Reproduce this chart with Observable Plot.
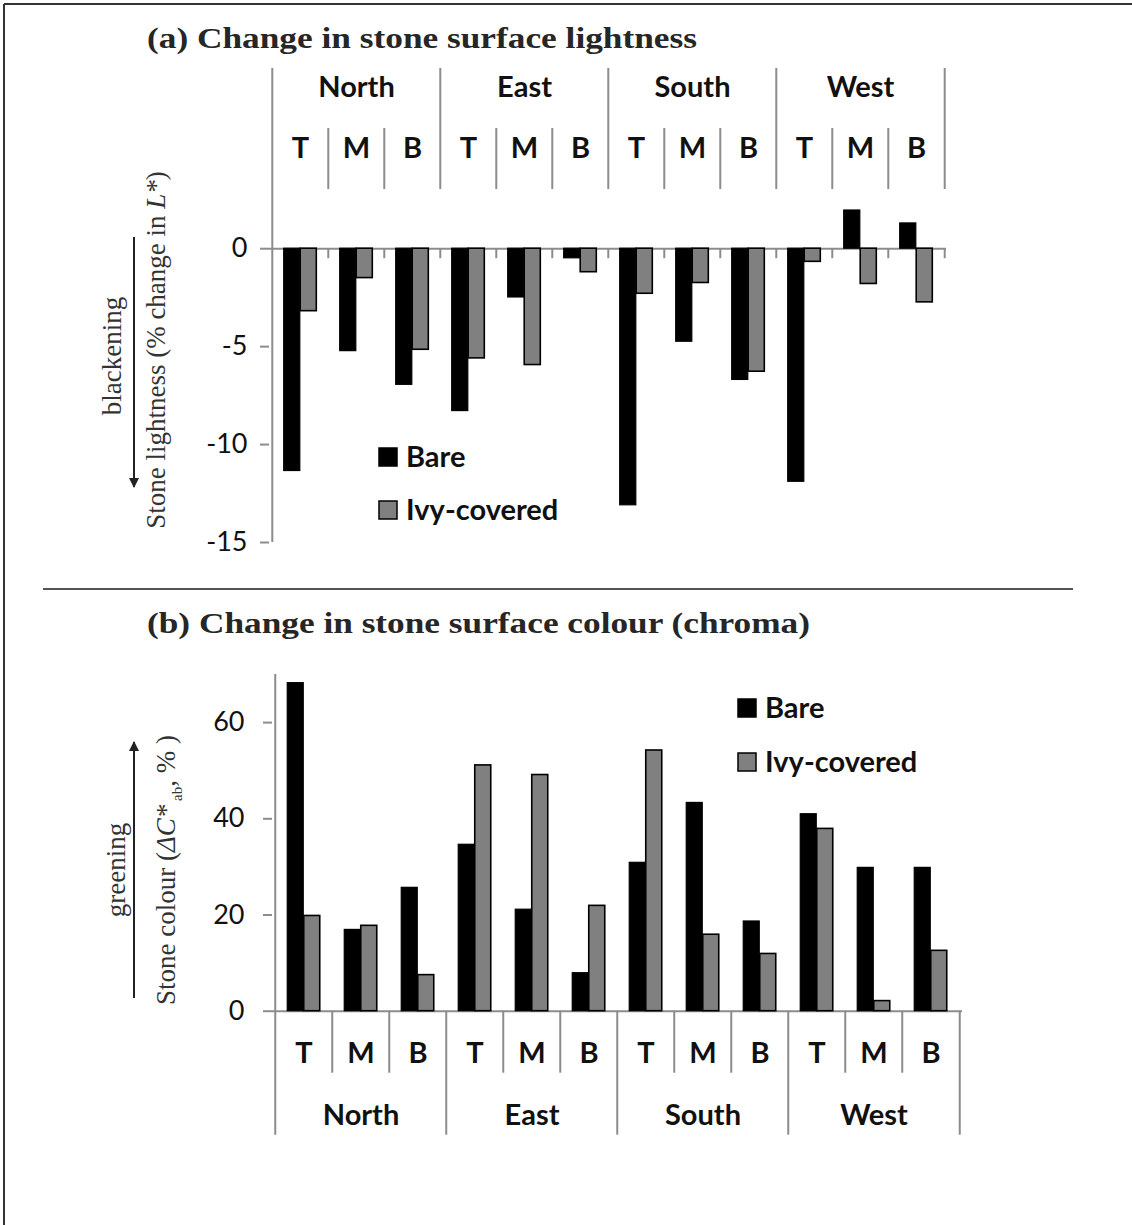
<!DOCTYPE html>
<html>
<head>
<meta charset="utf-8">
<script src="https://cdn.jsdelivr.net/npm/d3@7"></script>
<script src="https://cdn.jsdelivr.net/npm/@observablehq/plot@0.6"></script>
<style>
  html, body { margin: 0; padding: 0; background: #fff; }
  #wrap { position: relative; width: 1132px; height: 1225px; overflow: hidden; background: #fff; }
  #wrap > svg.plot-a { position: absolute; left: 0; top: 0; }
  #wrap > svg.plot-b { position: absolute; left: 0; top: 650px; }
  #deco { position: absolute; left: 0; top: 0; pointer-events: none; }
</style>
</head>
<body>
<div id="wrap"></div>
<script>
// ---------------- data ----------------
const directions = ["North", "East", "South", "West"];
const positions = ["T", "M", "B"];
const seriesNames = ["Bare", "Ivy-covered"];
// (a) % change in L* (order: North T,M,B, East T,M,B, South T,M,B, West T,M,B)
const lightnessBare = [-11.35, -5.23, -6.95, -8.29, -2.49, -0.49, -13.1, -4.75, -6.7, -11.9, 1.95, 1.29];
const lightnessIvy  = [-3.19, -1.5, -5.16, -5.6, -5.94, -1.2, -2.3, -1.75, -6.28, -0.67, -1.8, -2.74];
// (b) ΔC*ab %
const chromaBare = [68.2, 16.9, 25.65, 34.6, 21.1, 7.9, 30.85, 43.3, 18.65, 40.95, 29.8, 29.8];
const chromaIvy  = [19.8, 17.75, 7.5, 51.1, 49.1, 21.9, 54.2, 15.9, 11.9, 37.9, 2.1, 12.55];
const ticksA = [0, -5, -10, -15];
const ticksB = [0, 20, 40, 60];

// ---------------- derived tables ----------------
const cats = directions.flatMap(d => positions.map(p => `${d} ${p}`));
const rowsA = cats.map((c, i) => ({cat: c, bare: lightnessBare[i], ivy: lightnessIvy[i]}));
const rowsB = cats.map((c, i) => ({cat: c, bare: chromaBare[i], ivy: chromaIvy[i]}));
const groupStarts = cats.filter(c => c.endsWith(" T"));
const subStarts = cats.filter(c => !c.endsWith(" T"));
const lastCat = cats[cats.length - 1];

const FONT = "Lato, 'Open Sans', sans-serif";
const AXIS_GREY = "#8c8c8c";
const BARW = 16.5;

function barMarks(rows, bw) {
  return [
    Plot.barY(rows, {x: "cat", y: "bare", fill: "#000", stroke: "#000", strokeWidth: 1.2,
      insetLeft: bw / 2 - BARW, insetRight: bw / 2}),
    Plot.barY(rows, {x: "cat", y: "ivy", fill: "#808080", stroke: "#000", strokeWidth: 1.6,
      insetLeft: bw / 2, insetRight: bw / 2 - BARW})
  ];
}

// ---------------- panel (a) ----------------
{
  const W = 1132, H = 560, mL = 269, mR = 186, mT = 68, mB = 18;
  const bw = (W - mL - mR) / cats.length;
  const innerH = H - mT - mB;
  const yMin = -15, yMax = 9.2;
  const py = v => mT + (yMax - v) * innerH / (yMax - yMin);
  const headerBottom = 189, subTop = 128;
  const ruleStyle = {stroke: AXIS_GREY, strokeWidth: 2};
  const plotA = Plot.plot({
    width: W, height: H, marginLeft: mL, marginRight: mR, marginTop: mT, marginBottom: mB,
    x: {type: "band", domain: cats, padding: 0, axis: null},
    y: {domain: [yMin, yMax], axis: null},
    style: {fontFamily: FONT, background: "transparent", overflow: "visible"},
    marks: [
      Plot.ruleY([0], ruleStyle),
      Plot.ruleX([cats[0]], {x: d => d, dx: -bw / 2, ...ruleStyle}),
      Plot.ruleX(groupStarts.slice(1), {x: d => d, dx: -bw / 2, insetBottom: H - mB - headerBottom, ...ruleStyle}),
      Plot.ruleX([lastCat], {x: d => d, dx: bw / 2, insetBottom: H - mB - headerBottom, ...ruleStyle}),
      Plot.ruleX(subStarts, {x: d => d, dx: -bw / 2, insetTop: subTop - mT, insetBottom: H - mB - headerBottom, ...ruleStyle}),
      Plot.ruleX(cats.slice(1), {x: d => d, dx: -bw / 2, insetTop: py(0) - mT, insetBottom: H - mB - (py(0) + 10), ...ruleStyle}),
      Plot.ruleX([lastCat], {x: d => d, dx: bw / 2, insetTop: py(0) - mT, insetBottom: H - mB - (py(0) + 10), ...ruleStyle}),
      ...barMarks(rowsA, bw),
      Plot.axisY(ticksA, {tickSize: 9, tickPadding: 13, tickFormat: d => String(d), stroke: AXIS_GREY,
        strokeWidth: 2, fill: "#111", fontSize: 27, label: null}),
      Plot.text(directions, {x: d => `${d} M`, text: d => d, frameAnchor: "top", lineAnchor: "middle",
        dy: 19, fontSize: 29, fontWeight: "bold", fill: "#111"}),
      Plot.text(cats, {x: d => d, text: d => d.split(" ")[1], frameAnchor: "top", lineAnchor: "middle",
        dy: 80, fontSize: 29, fontWeight: "bold", fill: "#111"})
    ]
  });
  plotA.classList.add("plot-a");
  document.getElementById("wrap").appendChild(plotA);
}

// ---------------- panel (b) ----------------
{
  const W = 1132, H = 500, mL = 272, mR = 170, mT = 24, mB = 139.3;
  const bw = (W - mL - mR) / cats.length;
  const innerH = H - mT - mB;
  const subExt = 62, groupExt = 124;
  const ruleStyle = {stroke: AXIS_GREY, strokeWidth: 2};
  const plotB = Plot.plot({
    width: W, height: H, marginLeft: mL, marginRight: mR, marginTop: mT, marginBottom: mB,
    x: {type: "band", domain: cats, padding: 0, axis: null},
    y: {domain: [0, 70], axis: null},
    style: {fontFamily: FONT, background: "transparent", overflow: "visible"},
    marks: [
      Plot.ruleY([0], ruleStyle),
      Plot.ruleX([cats[0]], {x: d => d, dx: -bw / 2, insetBottom: -groupExt, ...ruleStyle}),
      Plot.ruleX(groupStarts.slice(1), {x: d => d, dx: -bw / 2, insetTop: innerH, insetBottom: -groupExt, ...ruleStyle}),
      Plot.ruleX([lastCat], {x: d => d, dx: bw / 2, insetTop: innerH, insetBottom: -groupExt, ...ruleStyle}),
      Plot.ruleX(subStarts, {x: d => d, dx: -bw / 2, insetTop: innerH, insetBottom: -subExt, ...ruleStyle}),
      ...barMarks(rowsB, bw),
      Plot.axisY(ticksB, {tickSize: 9, tickPadding: 19, tickFormat: d => String(d), stroke: AXIS_GREY,
        strokeWidth: 2, fill: "#111", fontSize: 27, label: null}),
      Plot.text(cats, {x: d => d, text: d => d.split(" ")[1], frameAnchor: "bottom", lineAnchor: "middle",
        dy: 43, fontSize: 29, fontWeight: "bold", fill: "#111"}),
      Plot.text(directions, {x: d => `${d} M`, text: d => d, frameAnchor: "bottom", lineAnchor: "middle",
        dy: 105, fontSize: 29, fontWeight: "bold", fill: "#111"})
    ]
  });
  plotB.classList.add("plot-b");
  document.getElementById("wrap").appendChild(plotB);
}

// ---------------- decorations: frame, titles, y labels, arrows, legends ----------------
{
  const svg = d3.select("#wrap").append("svg").attr("id", "deco").attr("width", 1132).attr("height", 1225);
  const defs = svg.append("defs");
  defs.append("marker").attr("id", "ah").attr("viewBox", "0 0 10 10").attr("refX", 9).attr("refY", 5)
    .attr("markerWidth", 6).attr("markerHeight", 5).attr("orient", "auto-start-reverse")
    .append("path").attr("d", "M0,0 L10,5 L0,10 z").attr("fill", "#222");

  svg.append("line").attr("x1", 4).attr("x2", 1132).attr("y1", 4).attr("y2", 4).attr("stroke", "#333").attr("stroke-width", 2);
  svg.append("line").attr("x1", 4).attr("x2", 4).attr("y1", 4).attr("y2", 1225).attr("stroke", "#333").attr("stroke-width", 2);
  svg.append("line").attr("x1", 43).attr("x2", 1073).attr("y1", 589).attr("y2", 589).attr("stroke", "#555").attr("stroke-width", 2);

  const serif = "'Liberation Serif', 'DejaVu Serif', serif";
  svg.append("text").attr("x", 147).attr("y", 48).attr("font-family", serif).attr("font-weight", "bold")
    .attr("font-size", 30).attr("fill", "#262626").attr("textLength", 550).attr("lengthAdjust", "spacingAndGlyphs")
    .text("(a) Change in stone surface lightness");
  svg.append("text").attr("x", 147).attr("y", 633).attr("font-family", serif).attr("font-weight", "bold")
    .attr("font-size", 30).attr("fill", "#262626").attr("textLength", 663).attr("lengthAdjust", "spacingAndGlyphs")
    .text("(b) Change in stone surface colour (chroma)");

  const la = svg.append("text").attr("transform", "translate(165,350) rotate(-90)").attr("text-anchor", "middle")
    .attr("font-family", serif).attr("font-size", 27).attr("fill", "#333");
  la.append("tspan").text("Stone lightness (% change in ");
  la.append("tspan").attr("font-style", "italic").text("L*");
  la.append("tspan").text(")");
  svg.append("text").attr("transform", "translate(121,356) rotate(-90)").attr("text-anchor", "middle")
    .attr("font-family", serif).attr("font-size", 27).attr("fill", "#333").text("blackening");
  svg.append("line").attr("x1", 134).attr("x2", 134).attr("y1", 237).attr("y2", 487)
    .attr("stroke", "#222").attr("stroke-width", 2).attr("marker-end", "url(#ah)");

  const lb = svg.append("text").attr("transform", "translate(175,870) rotate(-90)").attr("text-anchor", "middle")
    .attr("font-family", serif).attr("font-size", 27).attr("fill", "#333");
  lb.append("tspan").text("Stone colour (");
  lb.append("tspan").attr("font-style", "italic").text("ΔC*");
  lb.append("tspan").attr("font-size", 15).attr("dy", 7).text(" ab");
  lb.append("tspan").attr("dy", -7).text(",    % )");
  svg.append("text").attr("transform", "translate(125,870) rotate(-90)").attr("text-anchor", "middle")
    .attr("font-family", serif).attr("font-size", 27).attr("fill", "#333").text("greening");
  svg.append("line").attr("x1", 134).attr("x2", 134).attr("y1", 998).attr("y2", 742)
    .attr("stroke", "#222").attr("stroke-width", 2).attr("marker-end", "url(#ah)");

  const fills = ["#000", "#808080"];
  function legend(x, y0, gap) {
    seriesNames.forEach((name, i) => {
      const y = y0 + i * gap;
      svg.append("rect").attr("x", x).attr("y", y - 9).attr("width", 18).attr("height", 18)
        .attr("fill", fills[i]).attr("stroke", "#000").attr("stroke-width", 1.5);
      svg.append("text").attr("x", x + 27).attr("y", y).attr("dy", "0.36em")
        .attr("font-family", FONT).attr("font-weight", "bold").attr("font-size", 29).attr("fill", "#111").text(name);
    });
  }
  legend(379, 457, 53);
  legend(738, 708, 54);
}
</script>
</body>
</html>
